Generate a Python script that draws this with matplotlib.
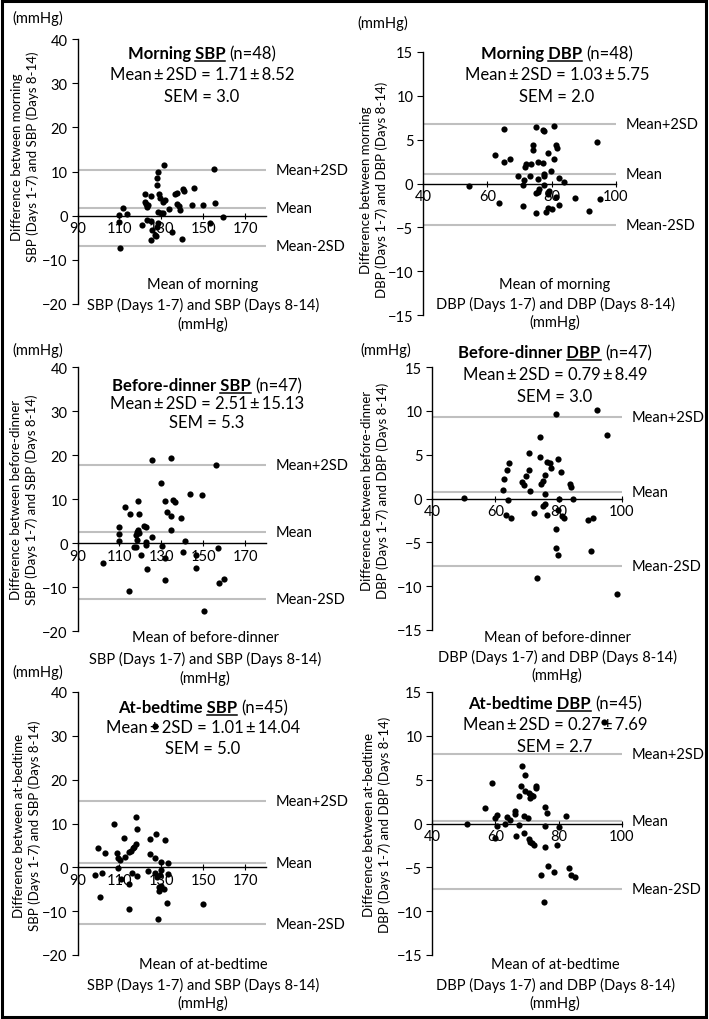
import matplotlib
matplotlib.use('Agg')
import matplotlib.pyplot as plt
from matplotlib.lines import Line2D
from matplotlib.patches import Rectangle

W, H = 709, 1020
plt.rcParams['font.family'] = ['Lato', 'DejaVu Sans']

# ---- data ----
times = ['Morning', 'Morning', 'Before-dinner', 'Before-dinner', 'At-bedtime', 'At-bedtime']
bp = ['SBP', 'DBP', 'SBP', 'DBP', 'SBP', 'DBP']
n_obs = [48, 48, 47, 47, 45, 45]
means = [1.71, 1.03, 2.51, 0.79, 1.01, 0.27]
sd2 = [8.52, 5.75, 15.13, 8.49, 14.04, 7.69]
sem = ['3.0', '2.0', '5.3', '3.0', '5.0', '2.7']

sbp_xticks = [90, 110, 130, 150, 170]
dbp_xticks = [40, 60, 80, 100]
sbp_yticks = [-20, -10, 0, 10, 20, 30, 40]
dbp_yticks = [-15, -10, -5, 0, 5, 10, 15]

x1 = [131.3, 155.0, 128.4, 128.1, 127.8, 145.4, 140.6, 140.9, 137.4, 136.4, 122.3, 124.9,
      128.7, 129.4, 131.9, 130.8, 122.0, 122.8, 123.6, 137.7, 138.3, 144.7, 150.0, 155.6,
      111.6, 133.5, 139.0, 128.4, 129.7, 110.0, 113.7, 131.0, 159.6, 110.0, 123.3, 125.2,
      128.4, 120.7, 153.2, 127.8, 125.5, 135.1, 126.8, 127.6, 124.9, 140.1, 110.3, 123.0]
y1 = [11.4, 10.6, 9.8, 8.6, 7.0, 6.3, 6.1, 5.5, 5.2, 4.8, 4.8, 4.5, 4.9, 4.0, 3.6, 3.0,
      3.0, 2.7, 2.5, 2.7, 2.1, 2.5, 2.5, 2.9, 1.7, 1.4, 1.2, 0.8, 0.5, 0.2, 0.4, 0.6,
      -0.2, -1.5, -0.9, -1.3, -1.7, -2.2, -1.7, -2.6, -3.2, -3.6, -4.3, -4.5, -5.5, -5.3,
      -7.3, 2.0]

x2 = [54.2, 65.2, 75.2, 77.4, 77.7, 80.8, 94.1, 74.2, 74.3, 81.3, 81.7, 79.0, 80.8, 62.3,
      65.2, 67.0, 72.0, 71.7, 73.5, 75.8, 77.4, 69.4, 73.2, 71.5, 71.2, 75.6, 77.7, 77.5,
      79.7, 77.7, 82.4, 83.8, 75.2, 75.6, 79.2, 78.8, 81.3, 87.1, 95.0, 63.5, 71.2, 78.8,
      80.0, 82.3, 78.1, 91.6, 75.2, 76.0]
y2 = [-0.3, 6.2, 6.4, 6.1, 6.0, 6.6, 4.7, 4.4, 3.8, 4.4, 4.0, 3.5, 2.8, 3.3, 2.5, 2.8,
      2.2, 1.9, 2.2, 2.4, 2.3, 0.9, 0.8, 0.4, -0.2, 0.5, 1.1, 0.8, 1.4, -0.2, 0.6, 0.15,
      -1.1, -1.0, -0.9, -1.2, -1.5, -1.6, -1.8, -2.2, -2.6, -2.8, -2.9, -2.5, -3.2, -3.1,
      -3.4, -0.6]

x3 = [125.4, 134.7, 156.1, 130.0, 143.5, 149.4, 131.8, 135.8, 136.6, 119.1, 112.8, 114.9,
      119.6, 132.7, 134.5, 139.4, 121.8, 122.6, 134.8, 110.0, 110.0, 118.8, 118.2, 119.5,
      117.7, 110.0, 118.5, 125.4, 122.9, 122.6, 141.2, 116.9, 118.0, 130.2, 157.2, 120.3,
      140.4, 146.6, 131.9, 102.2, 123.4, 146.6, 131.9, 159.8, 157.4, 114.4, 150.3]
y3 = [18.8, 19.3, 17.8, 13.6, 11.1, 11.0, 9.6, 9.7, 9.3, 9.5, 8.2, 6.5, 6.5, 7.0, 6.1,
      5.7, 3.9, 3.6, 2.9, 3.6, 2.1, 3.0, 2.6, 2.3, 1.8, 0.4, 0.6, 1.3, 0.2, -0.5, 0.4,
      -0.9, -1.0, -0.6, -1.1, -2.8, -2.1, -2.7, -3.4, -4.5, -5.9, -5.7, -8.3, -8.1, -9.1,
      -10.8, -15.5]

x4 = [79.1, 92.0, 95.4, 74.2, 70.6, 74.0, 64.4, 63.6, 62.8, 62.5, 63.9, 70.5, 69.6, 68.4,
      69.1, 71.1, 74.3, 75.0, 75.7, 76.4, 77.4, 77.7, 79.7, 80.8, 75.6, 83.6, 83.9, 80.1,
      84.6, 75.0, 75.8, 72.1, 76.4, 79.7, 81.6, 79.0, 79.2, 79.7, 63.4, 65.1, 89.4, 90.9,
      90.1, 73.0, 98.5, 50.1, 81.0]
y4 = [9.6, 10.1, 7.2, 7.0, 5.2, 4.7, 4.1, 3.2, 2.2, 1.0, -0.2, 3.3, 2.6, 1.9, 1.5, 0.9,
      1.7, 2.0, 2.7, 4.2, 4.1, 3.5, 4.5, 3.0, 0.5, 1.7, 1.3, 0.0, 0.0, -0.8, -0.6, -1.7,
      -1.9, -1.3, -2.2, -3.5, -5.6, -6.5, -1.9, -2.2, -2.5, -2.2, -6.0, -9.1, -10.9, 0.1,
      -2.0]

x5 = [118.0, 118.5, 107.6, 112.4, 124.6, 127.4, 131.9, 118.0, 117.2, 116.4, 115.6, 114.8,
      99.6, 103.1, 108.9, 112.7, 109.5, 110.3, 124.4, 127.1, 130.0, 133.2, 109.5, 98.3,
      101.5, 116.1, 118.6, 123.6, 126.8, 127.8, 129.7, 129.4, 133.2, 110.8, 114.8, 128.7,
      129.0, 129.7, 100.9, 132.6, 114.8, 149.8, 128.4, 127.0, 131.5]
y5 = [11.4, 8.7, 9.9, 6.7, 6.5, 7.6, 6.3, 5.3, 4.7, 4.3, 3.8, 3.6, 4.3, 3.2, 3.2, 2.3,
      2.1, 1.7, 3.0, 2.1, 1.3, 1.0, -0.2, -1.7, -1.4, -1.2, -1.9, -0.9, -1.4, -2.1, -0.6,
      -1.7, -1.5, -2.7, -3.7, -4.6, -5.5, -4.2, -6.8, -8.1, -9.6, -8.4, -11.9, 32.2, -4.9]

x6 = [68.4, 69.5, 58.9, 68.2, 69.4, 70.5, 71.3, 71.9, 72.7, 72.7, 67.6, 70.8, 56.6, 75.8,
      76.3, 82.2, 60.4, 60.0, 63.6, 64.7, 66.2, 66.2, 68.9, 70.3, 51.1, 60.4, 63.1, 67.6,
      75.8, 80.2, 66.6, 68.9, 59.9, 70.5, 71.0, 71.6, 72.3, 75.8, 76.5, 78.6, 74.5, 83.2,
      84.0, 85.3, 75.5, 94.3, 79.5]
y6 = [6.6, 5.5, 4.6, 4.3, 3.7, 3.5, 3.3, 3.1, 4.3, 4.0, 3.1, 2.9, 1.8, 1.9, 1.2, 0.9,
      1.0, 0.6, 0.7, 0.4, 1.4, 1.1, 0.9, 0.6, 0.0, -0.3, 0.0, -0.2, -0.3, -0.4, -1.4,
      -1.1, -1.7, -1.8, -2.1, -2.2, -2.5, -2.7, -4.9, -5.5, -5.9, -5.1, -5.9, -6.1, -9.0,
      11.6, -2.4]

xs = [x1, x2, x3, x4, x5, x6]
ys = [y1, y2, y3, y4, y5, y6]

# ---- layout in pixels (y from top) ----
boxes = [(77.5, 266, 40, 305), (423, 616, 53, 316),
         (77.5, 266, 368, 632), (432, 622, 368, 631),
         (77.5, 266, 693, 956), (432, 622, 693, 956)]
title_cx = [202, 557, 207, 555, 203, 555]
title_y = [(53, 75, 97), (53, 75, 97), (385, 404, 423),
           (352, 375, 397), (707, 728, 749), (703, 725, 747)]
xlab_cx = [203, 555, 205, 557, 203, 555]
xlab_y = [(285, 305, 324), (285, 304, 322), (638, 659, 678),
          (638, 657, 675), (965, 985, 1003), (965, 985, 1003)]
ylab_x = [25, 374, 24, 375, 27, 377]
ylab_y = [157, 190, 500, 491, 826, 825]
mmhg_pos = [(38, 18), (383, 23), (38, 350), (386, 350), (38, 672), None]

fig = plt.figure(figsize=(W / 100, H / 100), dpi=100)
renderer = fig.canvas.get_renderer()


def fx(px):
    return px / W


def fy(py):
    return 1 - py / H


def ptext(x, y, s, **kw):
    return fig.text(fx(x), fy(y), s, **kw)


def title(cx, cy, pre, ul, post, size=12):
    spx = size * 100 / 72
    t1 = ptext(0, 0, pre + ' ' + ul, fontsize=size, fontweight='bold', va='baseline')
    t2 = ptext(0, 0, post, fontsize=size, va='baseline')
    tu = ptext(0, 0, ul, fontsize=size, fontweight='bold', va='baseline')
    w1 = t1.get_window_extent(renderer).width
    w2 = t2.get_window_extent(renderer).width
    wu = tu.get_window_extent(renderer).width
    tu.remove()
    gap = spx * 0.25
    x0 = cx - (w1 + gap + w2) / 2
    base = cy + spx * 0.36
    t1.set_position((fx(x0), fy(base)))
    t2.set_position((fx(x0 + w1 + gap), fy(base)))
    fig.add_artist(Line2D([fx(x0 + w1 - wu), fx(x0 + w1)], [fy(base + 2.5)] * 2,
                          color='black', lw=1.1))


pm = '\u2009\u00b1\u2009'

for i in range(6):
    x0, x1_, top, bot = boxes[i]
    ax = fig.add_axes([fx(x0), fy(bot), (x1_ - x0) / W, (bot - top) / H])
    ax.set_zorder(5)
    ax.patch.set_visible(False)
    if bp[i] == 'SBP':
        xlim, ylim, xt, yt = (90, 180), (-20, 40), sbp_xticks, sbp_yticks
    else:
        xlim, ylim, xt, yt = (40, 100), (-15, 15), dbp_xticks, dbp_yticks
    ax.set_xlim(*xlim)
    ax.set_ylim(*ylim)
    ax.set_xticks(xt)
    ax.set_yticks(yt)
    for side in ['top', 'right']:
        ax.spines[side].set_visible(False)
    ax.spines['bottom'].set_position(('data', 0))
    ax.spines['bottom'].set_linewidth(1.0)
    ax.spines['left'].set_linewidth(1.0)
    ax.tick_params(axis='x', direction='inout', length=5, pad=1.5, labelsize=10.5)
    ax.tick_params(axis='y', direction='out', length=4, pad=3, labelsize=10.5)

    m, s = means[i], sd2[i]
    levels = [m + s, m, m - s]
    ax.hlines(levels, xlim[0], xlim[1], color='#bfbfbf', lw=1.5, zorder=1)
    for lab, v in zip(['Mean+2SD', 'Mean', 'Mean-2SD'], levels):
        ax.annotate(lab, (xlim[1], v), xytext=(10, 0), textcoords='offset pixels',
                    va='center', ha='left', fontsize=10.5, annotation_clip=False)
    ax.scatter(xs[i], ys[i], s=20, color='black', zorder=3, clip_on=False, linewidths=0)

    # titles
    cx = title_cx[i]
    ty = title_y[i]
    title(cx, ty[0], times[i], bp[i], '(n=%d)' % n_obs[i])
    ptext(cx, ty[1], 'Mean%s2SD = %.2f%s%.2f' % (pm, means[i], pm, sd2[i]),
          ha='center', va='center', fontsize=12)
    ptext(cx, ty[2], 'SEM = ' + sem[i], ha='center', va='center', fontsize=12)

    # x label
    lx = xlab_cx[i]
    ly = xlab_y[i]
    ptext(lx, ly[0], 'Mean of ' + times[i].lower(), ha='center', va='center', fontsize=10.5)
    ptext(lx, ly[1], '%s (Days 1-7) and %s (Days 8-14)' % (bp[i], bp[i]),
          ha='center', va='center', fontsize=10.5)
    ptext(lx, ly[2], '(mmHg)', ha='center', va='center', fontsize=10.5)

    # y label
    ptext(ylab_x[i], ylab_y[i],
          'Difference between %s\n%s (Days 1-7) and %s (Days 8-14)'
          % (times[i].lower(), bp[i], bp[i]),
          rotation=90, ha='center', va='center', fontsize=9.5, linespacing=1.25,
          multialignment='center')

    if mmhg_pos[i] is not None:
        ptext(mmhg_pos[i][0], mmhg_pos[i][1], '(mmHg)', ha='center', va='center', fontsize=10.5)

fig.add_artist(Rectangle((fx(1.5), fy(1017.5)), (706 - 1.5) / W, (1017.5 - 1.5) / H,
                         transform=fig.transFigure, fill=False, ec='black', lw=2.2))

fig.savefig('out.png', dpi=100)
